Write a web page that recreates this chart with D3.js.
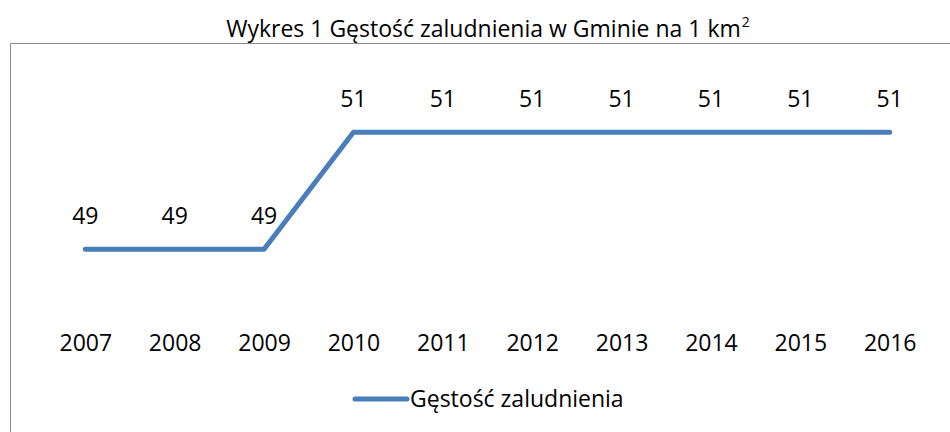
<!DOCTYPE html>
<html>
<head>
<meta charset="utf-8">
<script src="https://cdn.jsdelivr.net/npm/d3@7/dist/d3.min.js"></script>
<style>
  body { margin: 0; background: #fff; }
  text { font-family: "Open Sans", sans-serif; fill: #000; }
</style>
</head>
<body>
<script>
  // data
  var years = ["2007", "2008", "2009", "2010", "2011", "2012", "2013", "2014", "2015", "2016"];
  var density = [49, 49, 49, 51, 51, 51, 51, 51, 51, 51];
  var seriesName = "Gęstość zaludnienia";

  var W = 950, H = 432;
  var svg = d3.select("body").append("svg")
      .attr("width", W)
      .attr("height", H);

  svg.append("rect").attr("width", W).attr("height", H).attr("fill", "#fff");

  // chart frame (cut off on right and bottom like in the source)
  svg.append("path")
      .attr("d", "M10.5," + H + " V43.5 H" + (W + 2))
      .attr("fill", "none")
      .attr("stroke", "#8c8c8c")
      .attr("stroke-width", 1);

  // title
  var title = svg.append("text")
      .attr("x", 488)
      .attr("y", 37)
      .attr("text-anchor", "middle")
      .style("font-size", "23px");
  title.append("tspan").text("Wykres 1 Gęstość zaludnienia w Gminie na 1 km");
  title.append("tspan").attr("dy", -10).attr("dx", 1).style("font-size", "14px").text("2");

  var x = d3.scalePoint()
      .domain(years)
      .range([40.6, 934.4])
      .padding(0.5);

  var y = d3.scaleLinear()
      .domain([48, 51.5])
      .range([307.8, 103.1]);

  // x axis labels only
  var xAxis = d3.axisBottom(x).tickSize(0).tickPadding(0);
  var gx = svg.append("g")
      .attr("transform", "translate(0,334)")
      .call(xAxis);
  gx.select(".domain").remove();
  gx.selectAll("text")
      .attr("dy", 0)
      .attr("y", 17)
      .style("font-family", "'Open Sans', sans-serif")
      .style("font-size", "23px")
      .attr("fill", "#000");

  var line = d3.line()
      .x(function(d, i){ return x(years[i]); })
      .y(function(d){ return y(d); });

  svg.append("path")
      .datum(density)
      .attr("d", line)
      .attr("fill", "none")
      .attr("stroke", "#4a7ebb")
      .attr("stroke-width", 5)
      .attr("stroke-linejoin", "round")
      .attr("stroke-linecap", "round");

  // data labels
  svg.selectAll(".lbl")
      .data(density)
      .enter().append("text")
      .attr("class", "lbl")
      .attr("x", function(d, i){ return x(years[i]); })
      .attr("y", function(d){ return y(d) - 25; })
      .attr("text-anchor", "middle")
      .style("font-size", "23px")
      .text(function(d){ return d; });

  // legend
  svg.append("line")
      .attr("x1", 355).attr("x2", 407)
      .attr("y1", 399).attr("y2", 399)
      .attr("stroke", "#4a7ebb")
      .attr("stroke-width", 5)
      .attr("stroke-linecap", "round");
  svg.append("text")
      .attr("x", 410)
      .attr("y", 407)
      .style("font-size", "23px")
      .text(seriesName);
</script>
</body>
</html>
